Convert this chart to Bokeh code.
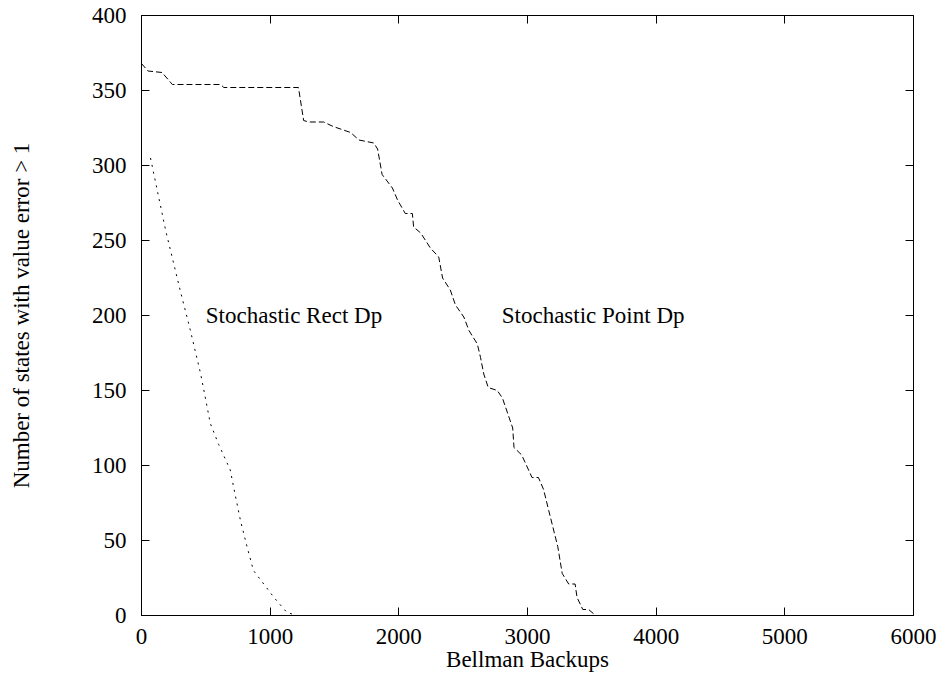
from bokeh.plotting import figure
from bokeh.models import LinearAxis, FixedTicker, Range1d
from bokeh.core.properties import value
from bokeh.embed import file_html
from bokeh.resources import INLINE

# ---- data ----
point_x = [0, 50, 160, 240, 615, 640, 1220, 1260, 1300, 1415, 1490, 1625, 1690, 1805, 1835,
           1870, 1950, 1990, 2050, 2105, 2115, 2170, 2245, 2310, 2340, 2400, 2440, 2505, 2545,
           2610, 2635, 2660, 2695, 2765, 2805, 2885, 2895, 2955, 3035, 3085, 3125, 3165, 3235,
           3270, 3320, 3370, 3385, 3430, 3475, 3530, 3560]
point_y = [368, 363, 362, 354, 354, 352, 352, 330, 329, 329, 326, 322, 317, 315, 311,
           294, 285, 277, 268, 268, 259, 255, 245, 239, 225, 217, 207, 199, 190,
           181, 172, 161, 152, 150, 145, 125, 112, 107, 92, 92, 84, 70, 46,
           28, 21, 21, 12, 4, 4, 0, 0]
rect_x = [70, 187, 300, 380, 460, 535, 600, 690, 715, 770, 820, 870, 950, 1030, 1130, 1210, 1260]
rect_y = [305, 257, 217, 190, 161, 128, 114, 97, 86, 63, 46, 30, 21, 12, 2, 0, 0]

x_ticks = [0, 1000, 2000, 3000, 4000, 5000, 6000]
y_ticks = [0, 50, 100, 150, 200, 250, 300, 350, 400]
labels = ["Stochastic Rect Dp", "Stochastic Point Dp"]
label_x = [500, 2800]
label_y = [200, 200]

FONT = "Liberation Serif"
FS = "23px"

p = figure(width=943, height=677, output_backend="svg", toolbar_location=None,
           x_range=Range1d(0, 6000), y_range=Range1d(0, 400),
           min_border_left=141, min_border_right=30, min_border_top=15, min_border_bottom=62,
           x_axis_label="Bellman Backups",
           y_axis_label="Number of states with value error > 1")
p.frame_width = 772
p.frame_height = 600
p.grid.visible = False
p.outline_line_color = "black"
p.outline_line_width = 1
p.background_fill_color = "white"
p.border_fill_color = "white"

for ax, ticks in ((p.xaxis[0], x_ticks), (p.yaxis[0], y_ticks)):
    ax.ticker = FixedTicker(ticks=ticks)
    ax.major_tick_in = 8
    ax.major_tick_out = 0
    ax.minor_tick_line_color = None
    ax.axis_line_color = "black"
    ax.major_tick_line_color = "black"
    ax.major_label_text_font = FONT
    ax.major_label_text_font_size = FS
    ax.major_label_text_color = "black"
    ax.axis_label_text_font = FONT
    ax.axis_label_text_font_size = FS
    ax.axis_label_text_font_style = "normal"
    ax.axis_label_text_color = "black"

p.xaxis[0].major_label_standoff = 13
p.xaxis[0].axis_label_standoff = 0
p.yaxis[0].major_label_standoff = 15
p.yaxis[0].axis_label_standoff = 55

# mirrored ticks on top and right
for loc, ticks in (("above", x_ticks), ("right", y_ticks)):
    ax = LinearAxis(ticker=FixedTicker(ticks=ticks))
    ax.major_tick_in = 8
    ax.major_tick_out = 0
    ax.minor_tick_line_color = None
    ax.axis_line_color = None
    ax.major_tick_line_color = "black"
    ax.major_label_text_font_size = "0px"
    ax.major_label_standoff = 0
    ax.major_label_overrides = {t: "" for t in ticks}
    p.add_layout(ax, loc)

p.line(point_x, point_y, line_color="black", line_width=1, line_dash="6 3")
p.line(rect_x, rect_y, line_color="black", line_width=1, line_dash="2 5")

p.text(x=label_x, y=label_y, text=labels, text_font=value(FONT), text_font_size=FS,
       text_align="left", text_baseline="middle", text_color="black")

open("out.html", "w").write(file_html(p, INLINE))
